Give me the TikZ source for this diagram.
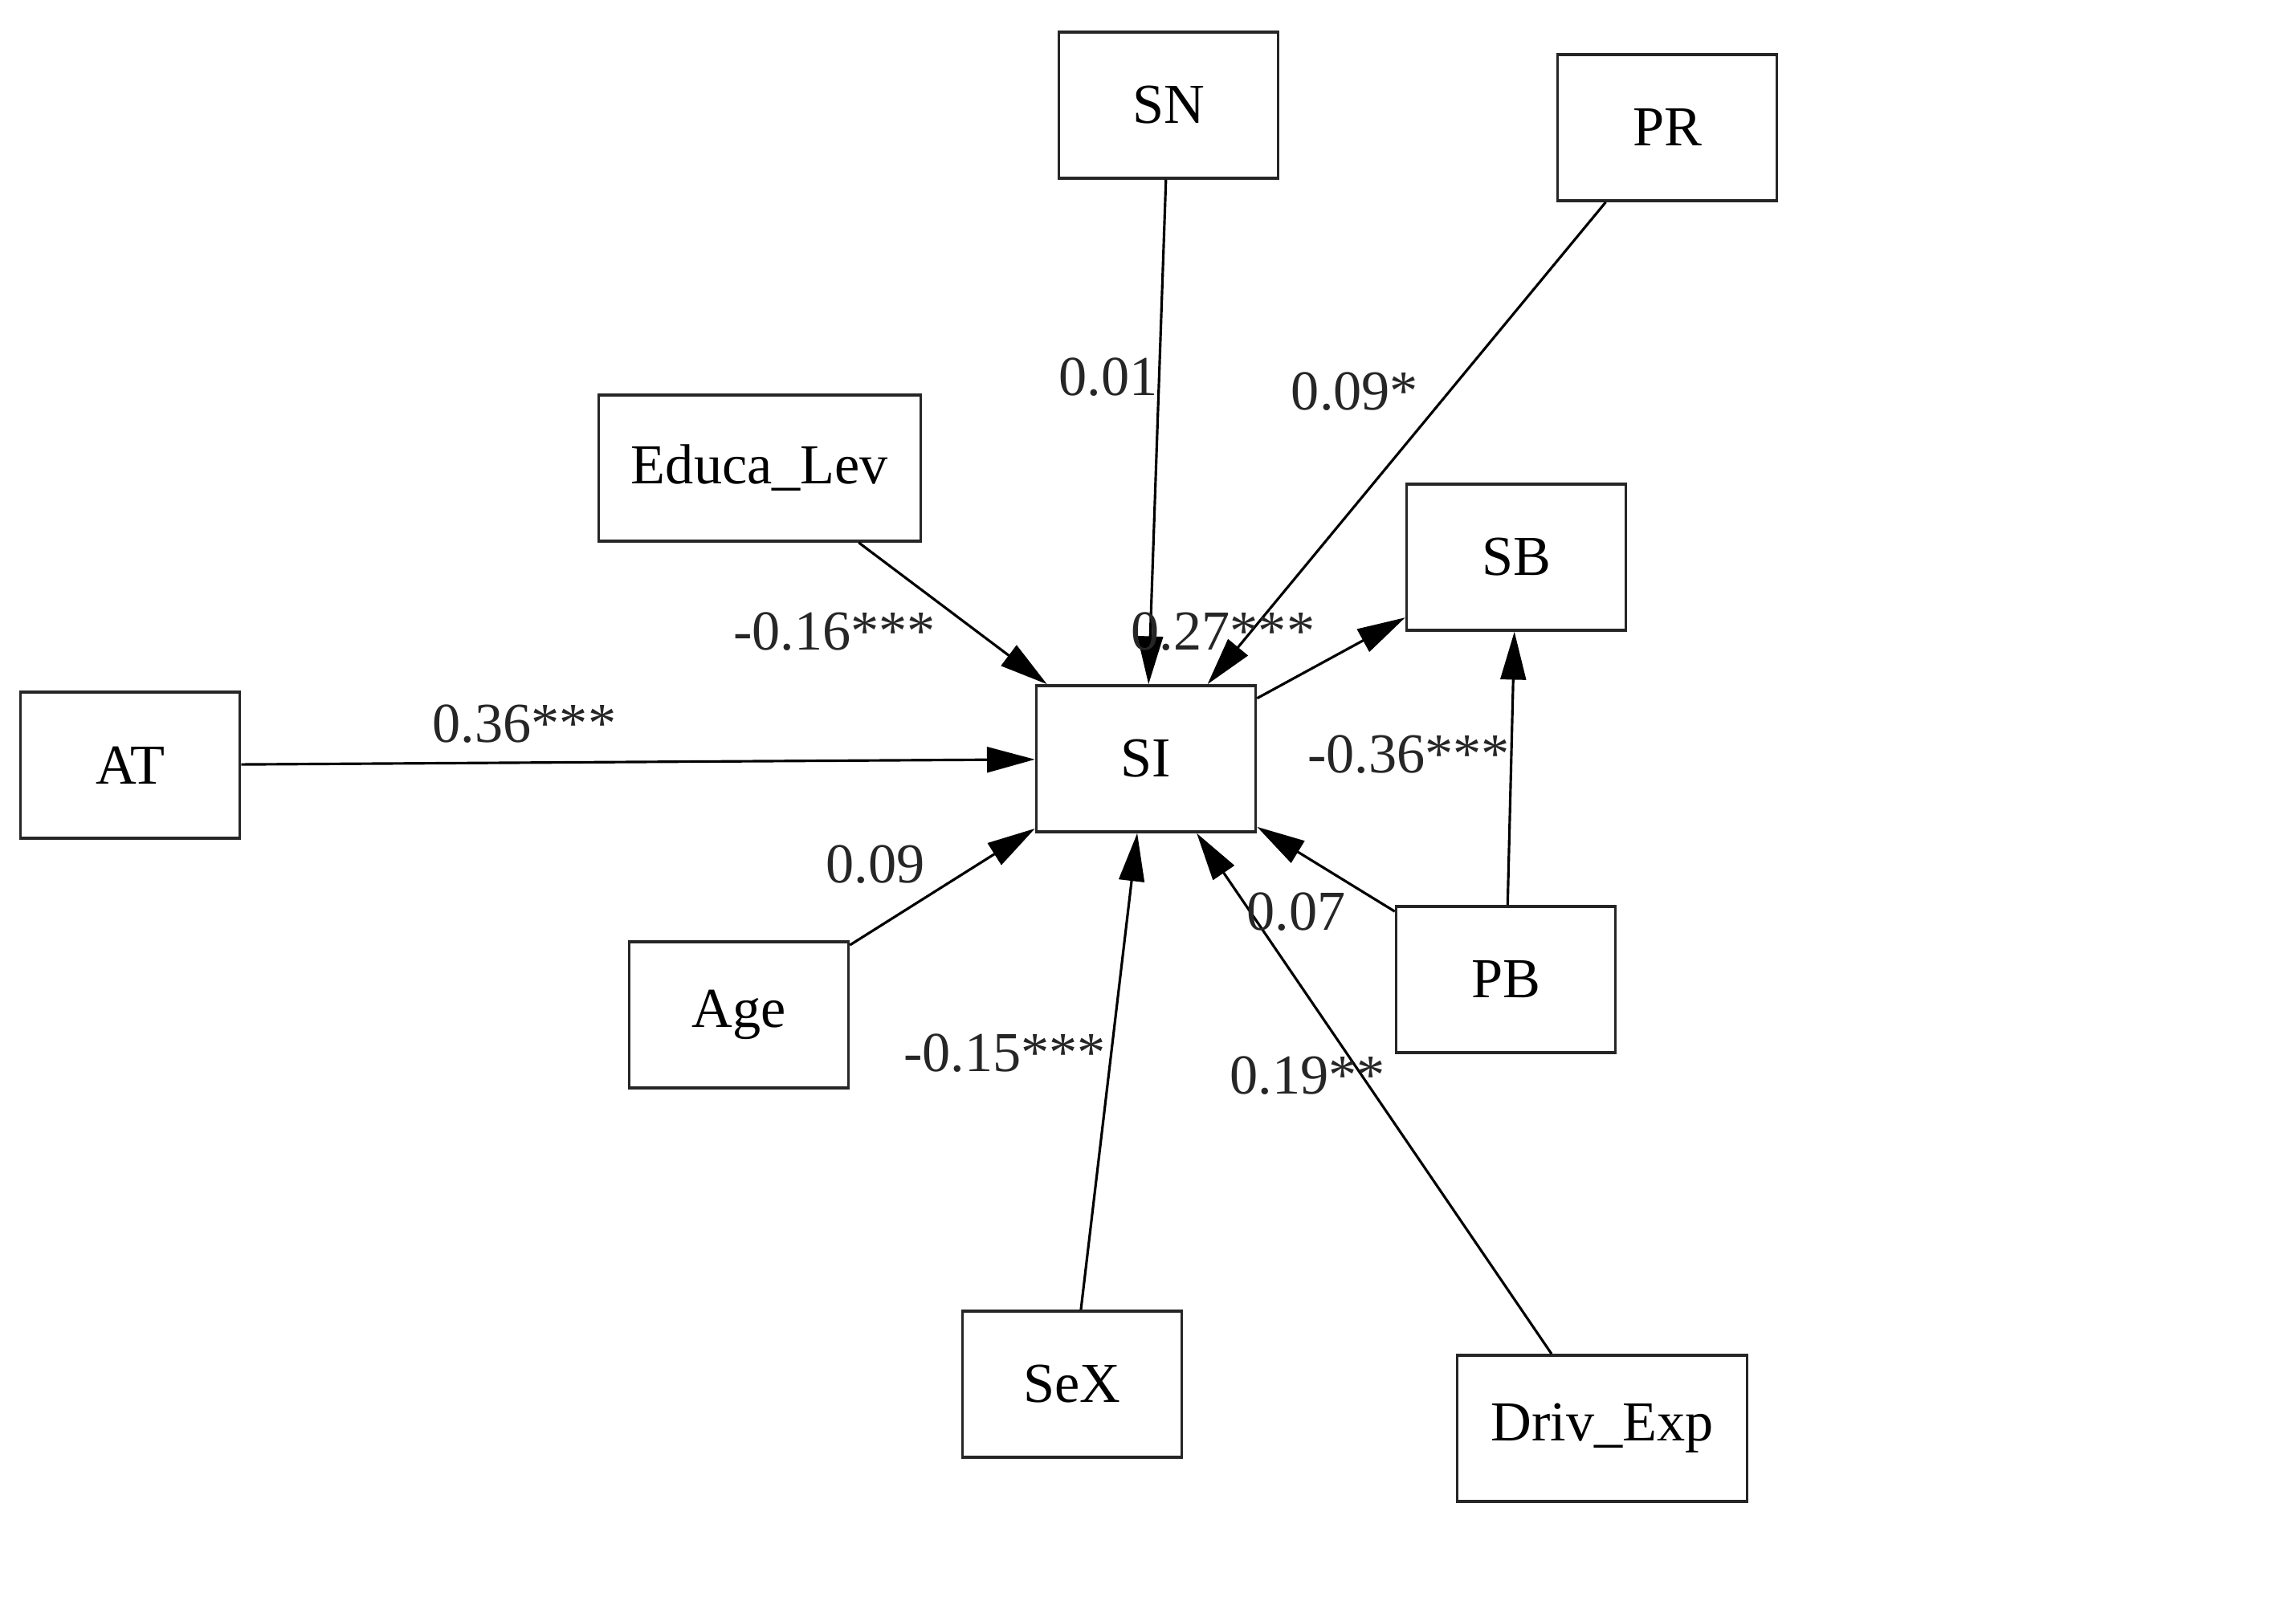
\documentclass[tikz,border=0pt]{standalone}
\usepackage{fontspec}
\setmainfont{Liberation Serif}
\usepackage{tikz}
\usetikzlibrary{arrows.meta}

\begin{document}
\begin{tikzpicture}[every node/.style={font=\fontsize{20}{24}\selectfont},
  var/.style={draw=black!85,line width=1pt,fill=white,minimum width=2.73cm,minimum height=1.82cm,inner sep=2pt},
  path/.style={-{Triangle[length=17pt,width=9pt]},line width=0.9pt,black},
  coef/.style={inner sep=1pt,text=black!85}]
  \useasboundingbox (0,0) rectangle (28.59,19.98);
  % variables
  \node[var] (sn) at (14.55,18.67) {SN};
  \node[var] (pr) at (20.76,18.39) {PR};
  \node[var,minimum width=4.01cm] (edu) at (9.46,14.15) {Educa\_Lev};
  \node[var] (sb) at (18.88,13.04) {SB};
  \node[var] (at) at (1.62,10.45) {AT};
  \node[var] (si) at (14.27,10.53) {SI};
  \node[var] (age) at (9.20,7.34) {Age};
  \node[var] (pb) at (18.75,7.78) {PB};
  \node[var] (sex) at (13.35,2.74) {SeX};
  \node[var,minimum width=3.61cm] (drv) at (19.95,2.19) {Driv\_Exp};
  % paths
  \draw[path] (sn)--(si);
  \draw[path] (pr)--(si);
  \draw[path] (edu)--(si);
  \draw[path] (at)--(si);
  \draw[path] (age)--(si);
  \draw[path] (sex)--(si);
  \draw[path] (drv)--(si);
  \draw[path] (pb)--(si);
  \draw[path] (si)--(sb);
  \draw[path] (pb)--(sb);
  % coefficients
  \node[coef] (csn) at (13.80,15.28) {0.01};
  \node[coef] (cpr) at (16.87,15.10) {0.09*};
  \node[coef] (cedu) at (10.39,12.11) {-0.16***};
  \node[coef] (csb) at (15.23,12.11) {0.27***};
  \node[coef] (cat) at (6.53,10.96) {0.36***};
  \node[coef] (cage) at (10.90,9.21) {0.09};
  \node[coef] (cpbsb) at (17.54,10.58) {-0.36***};
  \node[coef] (cpb) at (16.14,8.62) {0.07};
  \node[coef] (csex) at (12.51,6.86) {-0.15***};
  \node[coef] (cdrv) at (16.28,6.58) {0.19**};
\end{tikzpicture}
\end{document}
